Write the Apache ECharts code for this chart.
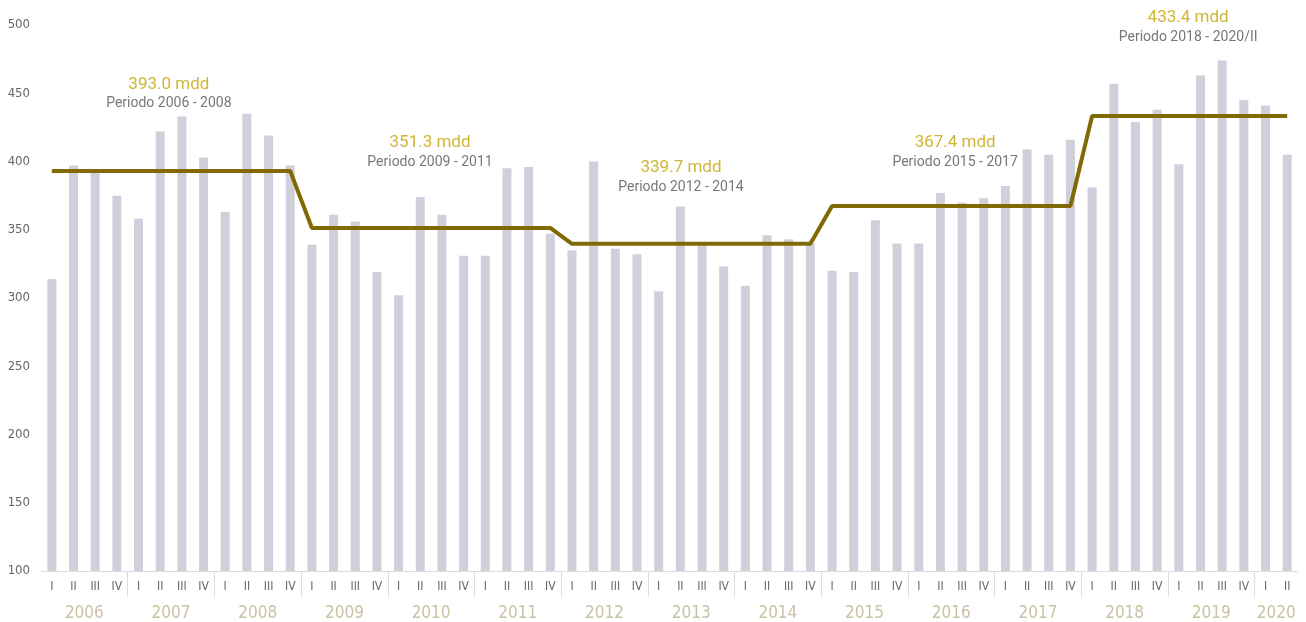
<!DOCTYPE html>
<html>
<head>
<meta charset="utf-8">
<script src="https://cdn.jsdelivr.net/npm/echarts@6/dist/echarts.min.js"></script>
<style>
  html, body { margin: 0; padding: 0; background: #fff; }
  #chart { width: 1306px; height: 622px; }
</style>
</head>
<body>
<div id="chart"></div>
<script>
// years and quarter names on the x axis
const years = [2006, 2007, 2008, 2009, 2010, 2011, 2012, 2013, 2014, 2015, 2016, 2017, 2018, 2019, 2020];
const quartersPerYear = [4, 4, 4, 4, 4, 4, 4, 4, 4, 4, 4, 4, 4, 4, 2];
const quarterNames = ['I', 'II', 'III', 'IV'];

// quarterly values (bars)
const values = [
  314, 397, 394, 375,
  358, 422, 433, 403,
  363, 435, 419, 397,
  339, 361, 356, 319,
  302, 374, 361, 331,
  331, 395, 396, 347,
  335, 400, 336, 332,
  305, 367, 340, 323,
  309, 346, 343, 340,
  320, 319, 357, 340,
  340, 377, 370, 373,
  382, 409, 405, 416,
  381, 457, 429, 438,
  398, 463, 474, 445,
  441, 405
];

// period averages (line)
const periodAvg = [393.0, 351.3, 339.7, 367.4, 433.4];
const periodQuarters = [12, 12, 12, 12, 10];
const periodNames = ['Periodo 2006 - 2008', 'Periodo 2009 - 2011', 'Periodo 2012 - 2014', 'Periodo 2015 - 2017', 'Periodo 2018 - 2020/II'];
// where each period note sits: [quarter index, value]
const periodNoteAt = [[5.4, 450], [17.45, 407], [29.03, 388.6], [41.68, 407], [52.43, 498.5]];

const categories = [];
const yearCenters = [];
const yearBreaks = [];
years.forEach((y, i) => {
  const start = categories.length;
  for (let q = 0; q < quartersPerYear[i]; q++) categories.push(quarterNames[q]);
  yearCenters.push(start + (quartersPerYear[i] - 1) / 2);
  if (i > 0) yearBreaks.push(start - 0.5);
});

const avgLine = [];
periodAvg.forEach((v, i) => {
  for (let k = 0; k < periodQuarters[i]; k++) avgLine.push(v);
});

const notes = periodAvg.map((v, i) => ({
  value: periodNoteAt[i],
  label: { formatter: '{a|' + v.toFixed(1) + ' mdd}\n{b|' + periodNames[i] + '}' }
}));

const narrow = '"Liberation Sans Narrow", "DejaVu Sans Condensed", Roboto, sans-serif';

const chart = echarts.init(document.getElementById('chart'));
const option = {
  animation: false,
  grid: { left: 41, right: 8, top: 25, bottom: 51 },
  xAxis: [
    {
      type: 'category',
      data: categories,
      axisLine: { lineStyle: { color: '#dcdcdc', width: 1 } },
      axisTick: { show: false },
      axisLabel: {
        interval: 0,
        margin: 10,
        fontSize: 12,
        color: '#666',
        fontFamily: narrow
      }
    },
    {
      type: 'value',
      position: 'bottom',
      min: -0.5,
      max: categories.length - 0.5,
      axisLine: { show: false },
      splitLine: { show: false },
      axisTick: {
        show: true,
        customValues: yearBreaks,
        length: 26,
        lineStyle: { color: '#dcdcdc', width: 1 }
      },
      axisLabel: {
        customValues: yearCenters,
        formatter: (v) => {
          const i = yearCenters.findIndex(c => Math.abs(c - v) < 0.01);
          return i >= 0 ? String(years[i]) : '';
        },
        margin: 34,
        fontSize: 17,
        color: '#cac2a4',
        fontFamily: narrow
      }
    }
  ],
  yAxis: {
    type: 'value',
    min: 100,
    max: 500,
    interval: 50,
    axisLine: { show: false },
    axisTick: { show: false },
    splitLine: { show: false },
    axisLabel: {
      margin: 11,
      fontSize: 13,
      color: '#666',
      fontFamily: narrow
    }
  },
  series: [
    {
      type: 'bar',
      data: values,
      barWidth: 9,
      itemStyle: { color: '#d0d0dc' },
      z: 2
    },
    {
      type: 'line',
      data: avgLine,
      symbol: 'none',
      lineStyle: { color: '#806a05', width: 4 },
      z: 3
    },
    {
      type: 'scatter',
      xAxisIndex: 1,
      data: notes,
      symbolSize: 0,
      clip: false,
      silent: true,
      label: {
        show: true,
        position: 'inside',
        align: 'center',
        verticalAlign: 'middle',
        fontFamily: 'Roboto, sans-serif',
        rich: {
          a: { fontSize: 17, color: '#c4a300', lineHeight: 21, fontFamily: 'Roboto, sans-serif' },
          b: { fontSize: 14, color: '#555555', lineHeight: 18, fontFamily: 'Roboto, sans-serif' }
        }
      },
      z: 4
    }
  ]
};
chart.setOption(option);
</script>
</body>
</html>
